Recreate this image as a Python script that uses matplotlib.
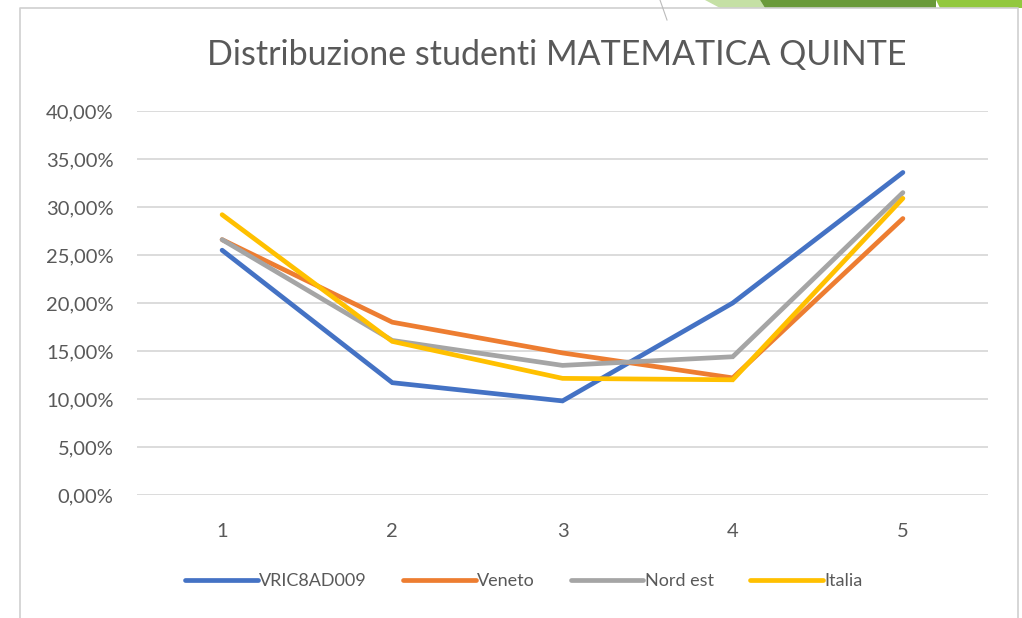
import matplotlib
matplotlib.use("Agg")
import matplotlib.pyplot as plt
from matplotlib.patches import Polygon
from matplotlib.lines import Line2D
from matplotlib.ticker import FuncFormatter

categories = ["1", "2", "3", "4", "5"]
vric = [25.5, 11.7, 9.8, 20.0, 33.6]
veneto = [26.6, 18.0, 14.8, 12.2, 28.8]
nord_est = [26.6, 16.1, 13.5, 14.4, 31.5]
italia = [29.2, 16.0, 12.15, 12.0, 30.9]
series_names = ["VRIC8AD009", "Veneto", "Nord est", "Italia"]
colors = ["#4472C4", "#ED7D31", "#A5A5A5", "#FFC000"]

plt.rcParams['font.family'] = ['Lato', 'DejaVu Sans']
W, H = 1022, 618
fig = plt.figure(figsize=(W/100, H/100), dpi=100)

# decorations: chart frame (left, top, right) and green bars at top
fig.add_artist(Line2D([20/W, 20/W, 1018/W, 1018/W], [0, 1-8/H, 1-8/H, 0],
                      transform=fig.transFigure, color="#D0D0D0", linewidth=1.2))
fig.add_artist(Line2D([660/W, 667/W], [1, 1-20/H], transform=fig.transFigure,
                      color="#BBBBBB", linewidth=0.8))
fig.patches.append(Polygon([[705/W, 1], [760/W, 1], [765/W, 1-8/H], [720/W, 1-8/H]],
                           closed=True, transform=fig.transFigure, facecolor="#C5E0A5", edgecolor="none"))
fig.patches.append(Polygon([[760/W, 1], [936/W, 1], [936/W, 1-8/H], [765/W, 1-8/H]],
                           closed=True, transform=fig.transFigure, facecolor="#6A9A3A", edgecolor="none"))
fig.patches.append(Polygon([[936/W, 1], [1022/W, 1], [1022/W, 1-8/H], [940/W, 1-8/H]],
                           closed=True, transform=fig.transFigure, facecolor="#92C83E", edgecolor="none"))

ax = fig.add_axes([137/W, 1-495/H, (988-137)/W, (495-111)/H])
x = list(range(1, len(categories)+1))
for vals, name, c in zip([vric, veneto, nord_est, italia], series_names, colors):
    ax.plot(x, vals, color=c, linewidth=3.4, label=name, solid_joinstyle='miter', solid_capstyle='round')

ax.set_xlim(0.5, 5.5)
ax.set_ylim(0, 40)
ax.set_yticks(range(0, 41, 5))
ax.yaxis.set_major_formatter(FuncFormatter(lambda v, p: f"{v:.2f}".replace(".", ",") + "%"))
ax.set_xticks(x)
ax.set_xticklabels(categories)
ax.grid(axis='y', color="#D9D9D9", linewidth=1.3)
ax.set_axisbelow(True)
for s in ax.spines.values():
    s.set_visible(False)
ax.tick_params(axis='both', length=0, labelsize=14.5, labelcolor="#595959")
ax.tick_params(axis='y', pad=17)
ax.tick_params(axis='x', pad=20)

fig.text(557/W, 1-55/H, "Distribuzione studenti MATEMATICA QUINTE", ha='center', va='center',
         fontsize=24.5, color="#595959")

leg = fig.legend(loc='center', bbox_to_anchor=(524/W, 1-581/H), ncol=4, frameon=False,
                 fontsize=13, handlelength=4, handletextpad=0.1, columnspacing=2.0)
for t in leg.get_texts():
    t.set_color("#595959")

fig.savefig("out.png", dpi=100)
